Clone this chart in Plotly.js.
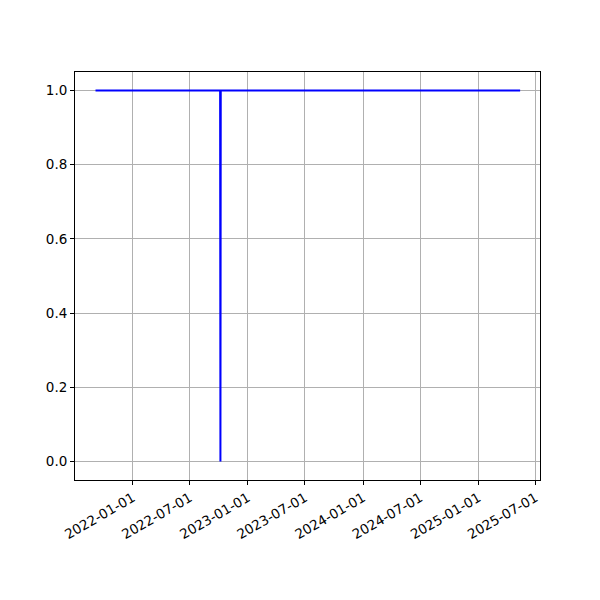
<!DOCTYPE html>
<html>
<head>
<meta charset="utf-8">
<script src="https://cdn.plot.ly/plotly-3.0.1.min.js"></script>
<style>html,body{margin:0;padding:0;background:#fff;}#chart{width:600px;height:600px;}</style>
</head>
<body>
<div id="chart"></div>
<script>
const dates = ['2021-09-05', '2022-10-05', '2022-10-06', '2022-10-07', '2025-05-13'];
const values = [1, 1, 0, 1, 1];
const tickDates = ['2022-01-01', '2022-07-01', '2023-01-01', '2023-07-01', '2024-01-01', '2024-07-01', '2025-01-01', '2025-07-01'];
const tickLabels = ['2022-01-01', '2022-07-01', '2023-01-01', '2023-07-01', '2024-01-01', '2024-07-01', '2025-01-01', '2025-07-01'];
const yTicks = [0, 0.2, 0.4, 0.6, 0.8, 1.0];

const font = {family: 'DejaVu Sans, sans-serif', size: 13.5, color: '#000'};

Plotly.newPlot('chart', [{
  x: dates,
  y: values,
  type: 'scatter',
  mode: 'lines',
  line: {color: '#0000ff', width: 2},
  hoverinfo: 'none'
}], {
  width: 600,
  height: 600,
  margin: {l: 75, r: 60, t: 72, b: 120},
  paper_bgcolor: '#fff',
  plot_bgcolor: '#fff',
  showlegend: false,
  font: font,
  xaxis: {
    type: 'date',
    range: ['2021-07-02', '2025-07-15'],
    tickvals: tickDates,
    ticktext: tickLabels,
    tickangle: -30,
    ticks: 'outside',
    ticklen: 4,
    tickwidth: 1,
    tickcolor: '#000',
    showgrid: true,
    gridcolor: '#b0b0b0',
    gridwidth: 1,
    showline: true,
    linecolor: '#000',
    linewidth: 1,
    mirror: true,
    zeroline: false,
    tickfont: font
  },
  yaxis: {
    range: [-0.05, 1.05],
    tickvals: yTicks,
    tickformat: '.1f',
    ticks: 'outside',
    ticklen: 4,
    tickwidth: 1,
    tickcolor: '#000',
    showgrid: true,
    gridcolor: '#b0b0b0',
    gridwidth: 1,
    showline: true,
    linecolor: '#000',
    linewidth: 1,
    mirror: true,
    zeroline: false,
    tickfont: font
  }
}, {staticPlot: true});
</script>
</body>
</html>
